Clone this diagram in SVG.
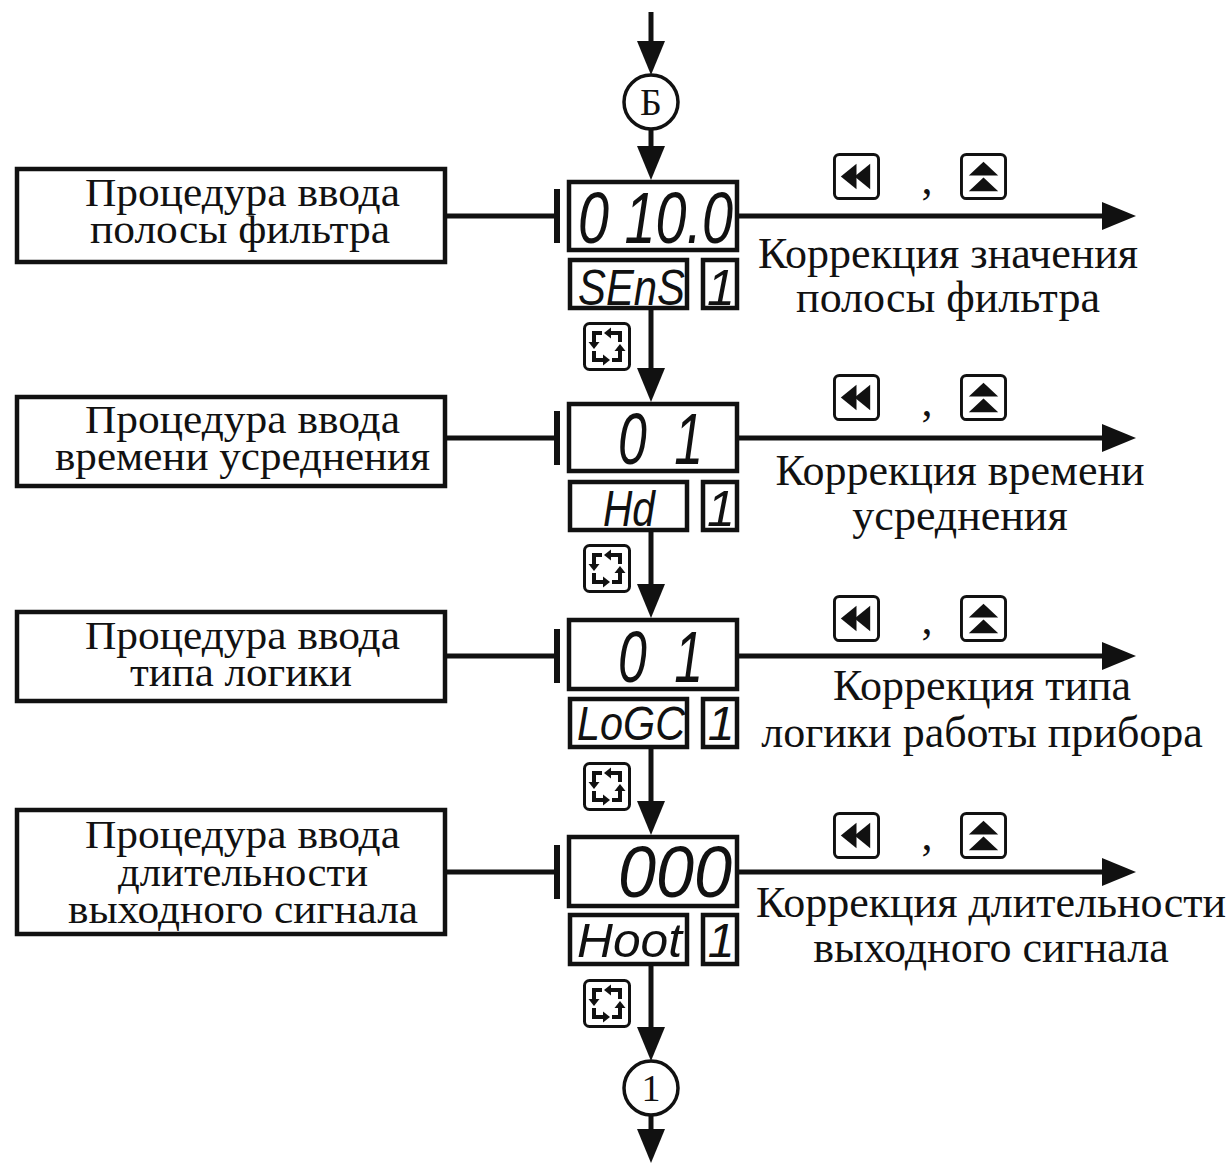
<svg xmlns="http://www.w3.org/2000/svg" xmlns:xlink="http://www.w3.org/1999/xlink" width="1229" height="1164" viewBox="0 0 1229 1164">
<style>
.box{fill:none;stroke:#111;stroke-width:4.5}
.disp{fill:none;stroke:#111;stroke-width:4.5}
.ln{fill:none;stroke:#111;stroke-width:5}
.bar{fill:none;stroke:#111;stroke-width:6}
.circ{fill:#fff;stroke:#111;stroke-width:3.5}
.t{font-family:"Liberation Serif","Times New Roman",serif;font-size:44px;fill:#111;text-anchor:middle}
.tl{font-family:"Liberation Serif","Times New Roman",serif;font-size:39px;fill:#111}
.seg{font-family:"Liberation Sans",Arial,sans-serif;font-style:italic;fill:#111}
</style>
<defs>
<marker id="ah" viewBox="0 0 34 28" refX="0" refY="14" markerWidth="34" markerHeight="28" markerUnits="userSpaceOnUse" orient="auto">
<path d="M0,0 L34,14 L0,28 Z" fill="#111"/>
</marker>
<symbol id="cyc" viewBox="0 0 48 49">
<rect x="1.5" y="1.5" width="45" height="46" rx="5" fill="#fff" stroke="#111" stroke-width="3"/>
<g fill="none" stroke="#111" stroke-width="4">
<path d="M19,11 H11 V20"/>
<path d="M11,29 V38 H20"/>
<path d="M29,38 H37 V29"/>
<path d="M37,20 V11 H28"/>
</g>
<g fill="#111">
<polygon points="5.5,20 16.5,20 11,27"/>
<polygon points="20,32.5 20,43.5 27,38"/>
<polygon points="31.5,29 42.5,29 37,22"/>
<polygon points="28,5.5 28,16.5 21,11"/>
</g>
</symbol>
<symbol id="btnL" viewBox="0 0 48 48">
<rect x="1.5" y="1.5" width="45" height="45" rx="5" fill="#fff" stroke="#111" stroke-width="3"/>
<polygon points="8,24 24,11 24,37" fill="#111"/>
<polygon points="22,24 38,11 38,37" fill="#111"/>
</symbol>
<symbol id="btnU" viewBox="0 0 48 48">
<rect x="1.5" y="1.5" width="45" height="45" rx="5" fill="#fff" stroke="#111" stroke-width="3"/>
<polygon points="24,9 9,23 39,23" fill="#111"/>
<polygon points="24,25 9,39 39,39" fill="#111"/>
</symbol>
</defs>
<rect width="1229" height="1164" fill="#fff"/>

<g id="connectors">
<line class="ln" x1="651" y1="12" x2="651" y2="41" marker-end="url(#ah)"/>
<line class="ln" x1="651" y1="129" x2="651" y2="146" marker-end="url(#ah)"/>
<line class="ln" x1="651" y1="310" x2="651" y2="368" marker-end="url(#ah)"/>
<line class="ln" x1="651" y1="532" x2="651" y2="584" marker-end="url(#ah)"/>
<line class="ln" x1="651" y1="749" x2="651" y2="801" marker-end="url(#ah)"/>
<line class="ln" x1="651" y1="966" x2="651" y2="1027" marker-end="url(#ah)"/>
<line class="ln" x1="651" y1="1115" x2="651" y2="1129" marker-end="url(#ah)"/>
<line class="ln" x1="739" y1="216" x2="1102" y2="216" marker-end="url(#ah)"/>
<line class="ln" x1="739" y1="438" x2="1102" y2="438" marker-end="url(#ah)"/>
<line class="ln" x1="739" y1="656" x2="1102" y2="656" marker-end="url(#ah)"/>
<line class="ln" x1="739" y1="872" x2="1102" y2="872" marker-end="url(#ah)"/>
<line class="ln" x1="447" y1="216" x2="557" y2="216"/>
<line class="bar" x1="557" y1="189" x2="557" y2="243"/>
<line class="ln" x1="447" y1="438" x2="557" y2="438"/>
<line class="bar" x1="557" y1="411" x2="557" y2="465"/>
<line class="ln" x1="447" y1="656" x2="557" y2="656"/>
<line class="bar" x1="557" y1="629" x2="557" y2="683"/>
<line class="ln" x1="447" y1="872" x2="557" y2="872"/>
<line class="bar" x1="557" y1="845" x2="557" y2="899"/>
</g>

<g id="nodeB">
<circle class="circ" cx="651" cy="102" r="27"/>
<text class="t" x="651" y="115" style="font-size:38px">Б</text>
</g>

<g id="proc1">
<rect class="box" x="17" y="169" width="428" height="93"/>
<text class="tl" x="85" y="206" textLength="315" lengthAdjust="spacingAndGlyphs">Процедура ввода</text>
<text class="tl" x="90" y="243" textLength="300" lengthAdjust="spacingAndGlyphs">полосы фильтра</text>
</g>
<g id="disp1">
<rect class="disp" x="569" y="182" width="168" height="68"/>
<text class="seg" x="578" y="243" style="font-size:72px" textLength="155" lengthAdjust="spacingAndGlyphs">0 10.0</text>
<rect class="disp" x="570" y="260" width="117" height="48"/>
<text class="seg" x="578" y="305" style="font-size:50px" textLength="107" lengthAdjust="spacingAndGlyphs">SEnS</text>
<rect class="disp" x="703" y="260" width="34" height="48"/>
<text class="seg" x="721" y="305" style="font-size:50px" text-anchor="middle">1</text>
<use xlink:href="#cyc" x="583" y="322" width="48" height="49"/>
</g>
<g id="corr1">
<use xlink:href="#btnL" x="833" y="153" width="47" height="47"/>
<text class="t" x="927" y="194">,</text>
<use xlink:href="#btnU" x="960" y="153" width="47" height="47"/>
<text class="t" x="948" y="268">Коррекция значения</text>
<text class="t" x="948" y="312">полосы фильтра</text>
</g>

<g id="proc2">
<rect class="box" x="17" y="397" width="428" height="89"/>
<text class="tl" x="85" y="433" textLength="315" lengthAdjust="spacingAndGlyphs">Процедура ввода</text>
<text class="tl" x="55" y="470" textLength="375" lengthAdjust="spacingAndGlyphs">времени усреднения</text>
</g>
<g id="disp2">
<rect class="disp" x="569" y="404" width="168" height="67"/>
<text class="seg" transform="translate(618,464) scale(0.72,1)" x="0 78" style="font-size:72px">01</text>
<rect class="disp" x="570" y="482" width="117" height="48"/>
<text class="seg" x="603" y="526" style="font-size:50px" textLength="52" lengthAdjust="spacingAndGlyphs">Hd</text>
<rect class="disp" x="703" y="482" width="34" height="48"/>
<text class="seg" x="721" y="526" style="font-size:50px" text-anchor="middle">1</text>
<use xlink:href="#cyc" x="583" y="544" width="48" height="49"/>
</g>
<g id="corr2">
<use xlink:href="#btnL" x="833" y="374" width="47" height="47"/>
<text class="t" x="927" y="416">,</text>
<use xlink:href="#btnU" x="960" y="374" width="47" height="47"/>
<text class="t" x="960" y="485">Коррекция времени</text>
<text class="t" x="960" y="530">усреднения</text>
</g>

<g id="proc3">
<rect class="box" x="17" y="612" width="428" height="89"/>
<text class="tl" x="85" y="649" textLength="315" lengthAdjust="spacingAndGlyphs">Процедура ввода</text>
<text class="tl" x="130" y="686" textLength="222" lengthAdjust="spacingAndGlyphs">типа логики</text>
</g>
<g id="disp3">
<rect class="disp" x="569" y="620" width="168" height="69"/>
<text class="seg" transform="translate(618,682) scale(0.72,1)" x="0 78" style="font-size:72px">01</text>
<rect class="disp" x="570" y="699" width="117" height="48"/>
<text class="seg" x="577" y="740" style="font-size:48px" textLength="108" lengthAdjust="spacingAndGlyphs">LoGC</text>
<rect class="disp" x="703" y="699" width="34" height="48"/>
<text class="seg" x="721" y="740" style="font-size:48px" text-anchor="middle">1</text>
<use xlink:href="#cyc" x="583" y="762" width="48" height="49"/>
</g>
<g id="corr3">
<use xlink:href="#btnL" x="833" y="595" width="47" height="47"/>
<text class="t" x="927" y="634">,</text>
<use xlink:href="#btnU" x="960" y="595" width="47" height="47"/>
<text class="t" x="982" y="700">Коррекция типа</text>
<text class="t" x="982" y="747">логики работы прибора</text>
</g>

<g id="proc4">
<rect class="box" x="17" y="810" width="428" height="124"/>
<text class="tl" x="85" y="848" textLength="315" lengthAdjust="spacingAndGlyphs">Процедура ввода</text>
<text class="tl" x="118" y="886" textLength="250" lengthAdjust="spacingAndGlyphs">длительности</text>
<text class="tl" x="68" y="923" textLength="350" lengthAdjust="spacingAndGlyphs">выходного сигнала</text>
</g>
<g id="disp4">
<rect class="disp" x="569" y="837" width="168" height="69"/>
<text class="seg" x="618" y="897" style="font-size:72px" textLength="114" lengthAdjust="spacingAndGlyphs">000</text>
<rect class="disp" x="570" y="915" width="117" height="49"/>
<text class="seg" x="577" y="957" style="font-size:48px" textLength="105" lengthAdjust="spacingAndGlyphs">Hoot</text>
<rect class="disp" x="703" y="915" width="34" height="49"/>
<text class="seg" x="721" y="957" style="font-size:48px" text-anchor="middle">1</text>
<use xlink:href="#cyc" x="583" y="979" width="48" height="49"/>
</g>
<g id="corr4">
<use xlink:href="#btnL" x="833" y="812" width="47" height="47"/>
<text class="t" x="927" y="850">,</text>
<use xlink:href="#btnU" x="960" y="812" width="47" height="47"/>
<text class="t" x="991" y="917">Коррекция длительности</text>
<text class="t" x="991" y="962">выходного сигнала</text>
</g>

<g id="node1">
<circle class="circ" cx="651" cy="1088" r="27"/>
<text class="t" x="651" y="1101" style="font-size:38px">1</text>
</g>
</svg>
